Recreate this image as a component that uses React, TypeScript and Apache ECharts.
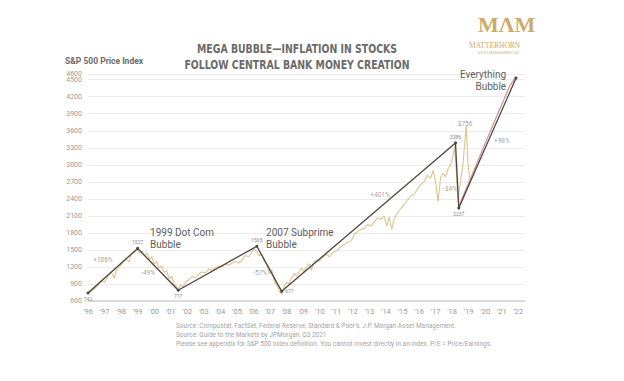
import React, { useEffect, useRef } from "react";
import * as echarts from "echarts";

// y-axis top label (extra tick above 4500)
const yTopLabel = 4600;

// S&P 500 price index (gold line), years as drawn on the chart
const goldYears = [
  1996.0, 1996.2, 1996.4, 1996.6, 1996.8, 1997.0, 1997.2, 1997.4, 1997.6, 1997.7, 1997.9,
  1998.1, 1998.3, 1998.5, 1998.6, 1998.8, 1999.0, 1999.1, 1999.25, 1999.4, 1999.55, 1999.7,
  1999.85, 2000.0, 2000.15, 2000.3, 2000.45, 2000.6, 2000.75, 2000.9, 2001.05, 2001.2, 2001.35,
  2001.45, 2001.6, 2001.75, 2001.9, 2002.1, 2002.3, 2002.5, 2002.7, 2002.9, 2003.1, 2003.3,
  2003.5, 2003.7, 2003.9, 2004.1, 2004.3, 2004.5, 2004.7, 2004.9, 2005.1, 2005.3, 2005.5,
  2005.7, 2005.9, 2006.05, 2006.2, 2006.35, 2006.5, 2006.65, 2006.8, 2006.95, 2007.1, 2007.25,
  2007.4, 2007.55, 2007.7, 2007.85, 2008.0, 2008.15, 2008.3, 2008.45, 2008.6, 2008.75, 2008.9,
  2009.05, 2009.2, 2009.35, 2009.5, 2009.65, 2009.8, 2010.0, 2010.2, 2010.4, 2010.6, 2010.8,
  2011.0, 2011.3, 2011.6, 2011.9, 2012.1, 2012.4, 2012.7, 2012.9, 2013.1, 2013.3, 2013.5,
  2013.7, 2013.9, 2014.05, 2014.2, 2014.35, 2014.5, 2014.7, 2014.9, 2015.1, 2015.3, 2015.5,
  2015.7, 2015.9, 2016.1, 2016.3, 2016.5, 2016.7, 2016.85, 2017.0, 2017.15, 2017.3, 2017.45,
  2017.6, 2017.75, 2017.9, 2018.05, 2018.15, 2018.25, 2018.35, 2018.45, 2018.55, 2018.65,
  2018.75, 2018.85, 2018.95, 2019.05,
];
const goldValues = [
  740, 770, 820, 880, 960, 930, 1050, 1110, 1000, 1150, 1200,
  1280, 1340, 1290, 1420, 1460, 1510, 1440, 1480, 1400, 1450, 1330,
  1380, 1250, 1300, 1180, 1220, 1100, 1140, 980, 1040, 900, 860,
  790, 880, 850, 940, 980, 1030, 1010, 1080, 1110, 1100, 1160,
  1140, 1190, 1210, 1200, 1250, 1230, 1270, 1300, 1270, 1320, 1400,
  1380, 1460, 1520, 1470, 1400, 1420, 1300, 1250, 1080, 1150, 950,
  880, 780, 720, 850, 930, 900, 1010, 1080, 1040, 1110, 1180,
  1120, 1200, 1260, 1150, 1280, 1320, 1310, 1380, 1420, 1380, 1460,
  1480, 1560, 1620, 1660, 1780, 1850, 1880, 1950, 1920, 2000, 2060,
  2040, 2090, 1920, 2080, 1860, 2050, 2150, 2230, 2300, 2380, 2450,
  2480, 2570, 2650, 2700, 2820, 2760, 2900, 2700, 2350, 2780, 2850,
  2790, 2930, 3000, 3150, 3330, 2900, 2350, 2600, 2800, 3000,
  3350, 3700, 3050, 2750,
];
// recovery after the 2020 low (pink line)
const tailYears = [2018.45, 2019.2, 2020.0, 2020.8, 2021.5, 2021.85];
const tailValues = [2300, 2820, 3380, 3930, 4400, 4550];

// hand-drawn bubble / crash line
const pivotYears = [1996.0, 1999.0, 2001.45, 2006.2, 2007.7, 2018.2, 2018.4, 2021.86];
const pivotValues = [741, 1527, 790, 1565, 770, 3386, 2237, 4530];
const pivotLabels = ["742", "1527", "777", "1565", "677", "3386", "2237", ""];
const pivotLabelPos = ["bottom", "top", "bottom", "top", "right", "top", "bottom", "top"];

// percentage moves
const moveTexts = ["+106%", "-49%", "-57%", "+401%", "-34%", "+98%", "3756"];
const moveYears = [1996.9, 1999.63, 2006.4, 2013.64, 2017.87, 2021.0, 2018.78];
const moveValues = [1322, 1093, 1093, 2467, 2573, 3418, 3718];

// bubble captions
const bubbleNames = ["1999 Dot Com\nBubble", "2007 Subprime\nBubble", "Everything\nBubble"];
const bubbleYears = [1999.75, 2006.76, 2021.26];
const bubbleValues = [1701, 1701, 4493];
const bubbleAlign = ["left", "left", "right"];

const titleLines = ["MEGA BUBBLE\u2014INFLATION IN STOCKS", "FOLLOW CENTRAL BANK MONEY CREATION"];
const sources = [
  "Source: Compustat, FactSet, Federal Reserve, Standard & Poor's, J.P. Morgan Asset Management.",
  "Source: Guide to the Markets by JPMorgan, Q3 2021",
  "Please see appendix for S&P 500 index definition. You cannot invest directly in an index. P/E = Price/Earnings.",
];

const GOLD = "#dcc48e";
const DARK = "#51423e";

export default function App() {
  const ref = useRef<HTMLDivElement>(null);
  useEffect(() => {
    if (!ref.current) return;
    const chart = echarts.init(ref.current, null, { renderer: "svg" });
    const font = "Roboto, 'Noto Sans', sans-serif";
    chart.setOption({
      animation: false,
      backgroundColor: "#ffffff",
      textStyle: { fontFamily: font },
      grid: { left: 88, right: 99, top: 74, bottom: 80 },
      xAxis: {
        type: "value",
        min: 1996,
        max: 2022.4,
        interval: 1,
        splitLine: { show: false },
        axisTick: { show: false },
        axisLine: { show: true, lineStyle: { color: "#d2d2d2", width: 1.5 } },
        axisLabel: {
          color: "#9a9a9a",
          fontSize: 7.5,
          margin: 6,
          showMaxLabel: false,
          formatter: (v: number) => (Number.isInteger(v) ? "'" + String(v).slice(2) : ""),
        },
      },
      yAxis: [
        {
          type: "value",
          min: 600,
          max: 4600,
          interval: 300,
          axisLine: { show: false },
          axisTick: { show: false },
          splitLine: { lineStyle: { color: "#ececec", width: 1 } },
          axisLabel: {
            color: "#9a9a9a",
            fontSize: 7,
            margin: 6,
            showMaxLabel: false,
            formatter: (v: number) => (v % 300 === 0 ? String(v) : ""),
          },
        },
        {
          type: "value",
          position: "left",
          min: 600,
          max: 4600,
          interval: 4000,
          axisLine: { show: false },
          axisTick: { show: false },
          splitLine: { show: false },
          axisLabel: {
            color: "#9a9a9a",
            fontSize: 7,
            margin: 6,
            formatter: (v: number) => (v === yTopLabel ? String(v) : ""),
          },
        },
      ],
      series: [
        {
          type: "line",
          data: goldYears.map((y, i) => [y, goldValues[i]]),
          symbol: "none",
          lineStyle: { color: GOLD, width: 1.1 },
          z: 2,
        },
        {
          type: "line",
          data: tailYears.map((y, i) => [y, tailValues[i]]),
          symbol: "none",
          lineStyle: { color: "#c9958c", width: 1.2 },
          z: 2,
        },
        {
          type: "line",
          data: pivotYears.map((y, i) => ({
            value: [y, pivotValues[i]],
            label: {
              show: pivotLabels[i] !== "",
              position: pivotLabelPos[i],
              formatter: pivotLabels[i],
              distance: 2,
            },
          })),
          symbol: "circle",
          symbolSize: 3,
          itemStyle: { color: DARK },
          lineStyle: { color: DARK, width: 1.3 },
          label: { fontSize: 5, color: "#8a8a8a" },
          z: 4,
        },
        {
          type: "scatter",
          symbolSize: 0,
          data: moveYears.map((y, i) => ({ value: [y, moveValues[i]], name: moveTexts[i] })),
          label: {
            show: true,
            position: "inside",
            formatter: "{b}",
            fontSize: 6.5,
            color: "#8a8a8a",
          },
          z: 5,
        },
        {
          type: "scatter",
          symbolSize: 0,
          data: bubbleYears.map((y, i) => ({
            value: [y, bubbleValues[i]],
            name: bubbleNames[i],
            label: { align: bubbleAlign[i] },
          })),
          label: {
            show: true,
            position: "inside",
            formatter: "{b}",
            fontSize: 10,
            lineHeight: 12,
            color: "#2e2e2e",
          },
          z: 5,
        },
      ],
      graphic: [
        ...titleLines.map((t, i) => ({
          type: "text",
          x: 297,
          y: 49 + i * 16,
          scaleX: 0.8,
          style: {
            text: t,
            fontSize: 13,
            fontWeight: "bold",
            fontFamily: "'DejaVu Sans Condensed', 'DejaVu Sans', sans-serif",
            fill: "#6a6a6a",
            textAlign: "center",
            textVerticalAlign: "middle",
          },
        })),
        {
          type: "text",
          left: 65,
          top: 56,
          style: { text: "S&P 500 Price Index", fontSize: 8.5, fontWeight: "bold", fill: "#6a6a6a", fontFamily: font },
        },
        {
          type: "text",
          left: 478,
          top: 13,
          style: {
            text: "M\u039BM",
            fontSize: 22,
            fontWeight: "bold",
            fontFamily: "'Liberation Serif', serif",
            fill: "#cfa96a",
          },
        },
        {
          type: "text",
          left: 469,
          top: 41,
          style: {
            text: "MATTERHORN",
            fontSize: 7.5,
            fontFamily: "'Liberation Serif', serif",
            fill: "#cfa96a",
            letterSpacing: 1.4,
          } as any,
        },
        {
          type: "text",
          left: 478,
          top: 51,
          style: { text: "ASSET MANAGEMENT AG", fontSize: 3.5, fill: "#c9b48f", fontFamily: font },
        },
        ...sources.map((s, i) => ({
          type: "text",
          left: 176,
          top: 322 + i * 9,
          style: { text: s, fontSize: 6.5, fill: "#a5a5a5", fontFamily: font },
        })),
      ],
    });
    return () => chart.dispose();
  }, []);
  return <div ref={ref} style={{ position: "fixed", left: 0, top: 0, width: 624, height: 381 }} />;
}
